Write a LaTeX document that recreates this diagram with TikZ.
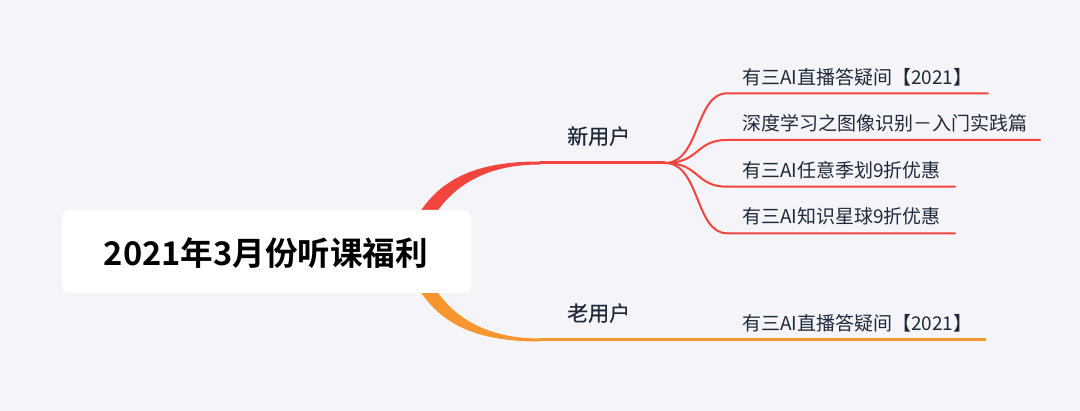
\documentclass[tikz,border=0pt]{standalone}
\usepackage{fontspec}
\setmainfont{Noto Sans CJK SC}
\newfontfamily\cjkb{Noto Sans CJK SC Bold}
\newfontfamily\cjkm{Noto Sans CJK SC}[FakeBold=0.4]
\definecolor{bgc}{HTML}{F4F4F9}
\definecolor{redc}{HTML}{F2453D}
\definecolor{orangec}{HTML}{F7962F}
\definecolor{txtc}{HTML}{1E2A3A}
\tikzset{
  rootbox/.style={fill=white, rounded corners=8pt, inner sep=0pt},
  branchlabel/.style={anchor=base west, inner sep=0pt, text=txtc, font=\cjkm\fontsize{21}{25}\selectfont},
  leaflabel/.style={anchor=base west, inner sep=0pt, text=txtc, font=\fontsize{19}{23}\selectfont},
  redline/.style={draw=redc, line width=2pt, line cap=round},
  redmain/.style={draw=redc, line width=3pt},
  orangemain/.style={draw=orangec, line width=3pt},
}
\begin{document}
\begin{tikzpicture}[x=1pt,y=-1pt]
\fill[bgc] (0,0) rectangle (1080,411);
\useasboundingbox (0,0) rectangle (1080,411);

% branch coordinates
\coordinate (n1) at (540,163);
\coordinate (fork1) at (665,163);
\coordinate (n2) at (540,340);
\coordinate (e2) at (986,340);

% tapered red branch
\fill[redc] (402,250) .. controls (424,184) and (466,161.5) .. (540,161.5)
  -- (540,164.5) .. controls (474,164.5) and (436,196) .. (418,250) -- cycle;
\draw[redmain] (n1) -- (fork1);

% tapered orange branch
\fill[orangec] (402,253) .. controls (424,319) and (466,341.5) .. (540,341.5)
  -- (540,338.5) .. controls (474,338.5) and (436,307) .. (418,253) -- cycle;
\draw[orangemain] (n2) -- (e2);

% children of new users
\coordinate (c1s) at (727,93.3);  \coordinate (c1e) at (988,93.3);
\coordinate (c2s) at (727,140);   \coordinate (c2e) at (1040,140);
\coordinate (c3s) at (727,186.7); \coordinate (c3e) at (955,186.7);
\coordinate (c4s) at (727,233.3); \coordinate (c4e) at (955,233.3);
\draw[redline] (fork1) .. controls +(35,0) and +(-32,0) .. (c1s) -- (c1e);
\draw[redline] (fork1) .. controls +(35,0) and +(-32,0) .. (c2s) -- (c2e);
\draw[redline] (fork1) .. controls +(35,0) and +(-32,0) .. (c3s) -- (c3e);
\draw[redline] (fork1) .. controls +(35,0) and +(-32,0) .. (c4s) -- (c4e);

% root
\node[rootbox, minimum width=409pt, minimum height=83pt] (root) at (266.5,251.5) {};
\node[anchor=base, inner sep=0pt, font=\cjkb\fontsize{32.6}{38}\selectfont, text=black] (roottext) at (266,266) {2021年3月份听课福利};

% labels
\node[branchlabel] (new) at (567,144) {新用户};
\node[branchlabel] (old) at (567,321) {老用户};
\node[leaflabel] (l1) at (742,84.5) {有三AI直播答疑间【2021】};
\node[leaflabel] (l2) at (742,131) {深度学习之图像识别－入门实践篇};
\node[leaflabel] (l3) at (742,177.5) {有三AI任意季划9折优惠};
\node[leaflabel] (l4) at (742,224) {有三AI知识星球9折优惠};
\node[leaflabel] (l5) at (742,331) {有三AI直播答疑间【2021】};
\end{tikzpicture}
\end{document}
